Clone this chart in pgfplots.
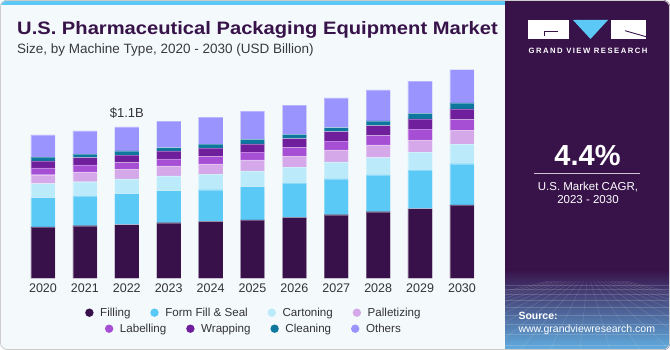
\documentclass[border=0pt]{standalone}
\usepackage{pgfplots}
\pgfplotsset{compat=1.18}
\usepackage{pgfplotstable}
\usepackage{graphicx}
\usepackage{fontspec}
\setmainfont{Liberation Sans}
\newfontfamily\logofont[LetterSpace=19]{Liberation Sans}

\definecolor{cFill}{HTML}{38114A}
\definecolor{cFFS}{HTML}{5BC9F6}
\definecolor{cCart}{HTML}{BBEAFA}
\definecolor{cPall}{HTML}{D5A8EA}
\definecolor{cLab}{HTML}{A64ED4}
\definecolor{cWrap}{HTML}{6F1F9B}
\definecolor{cClean}{HTML}{0E779E}
\definecolor{cOth}{HTML}{9A94FF}
\definecolor{panel}{HTML}{38134A}
\definecolor{pmid}{HTML}{4A5AA6}
\definecolor{pbot}{HTML}{62AEE0}
\definecolor{bgc}{HTML}{F4F9FC}
\definecolor{strip}{HTML}{5BC8F5}
\definecolor{titlec}{HTML}{38134A}
\definecolor{subc}{HTML}{3A3A3A}
\definecolor{tickc}{HTML}{333333}

\pgfplotstableread{
idx Filling FFS Cart Pall Lab Wrap Clean Others
0 0.373 0.213 0.102 0.065 0.049 0.051 0.027 0.162
1 0.382 0.216 0.104 0.071 0.051 0.053 0.025 0.169
2 0.390 0.225 0.107 0.068 0.051 0.054 0.031 0.174
3 0.404 0.233 0.107 0.073 0.051 0.058 0.024 0.192
4 0.414 0.230 0.114 0.073 0.056 0.060 0.029 0.196
5 0.424 0.242 0.114 0.080 0.058 0.060 0.032 0.206
6 0.443 0.249 0.116 0.080 0.063 0.065 0.031 0.211
7 0.462 0.260 0.124 0.087 0.065 0.068 0.029 0.216
8 0.484 0.267 0.126 0.092 0.068 0.073 0.034 0.225
9 0.506 0.281 0.131 0.087 0.080 0.073 0.041 0.235
10 0.533 0.300 0.143 0.097 0.080 0.078 0.044 0.242
}\datatable

\pgfplotsset{
  mylegend/.style={
    legend columns=4,
    legend image code/.code={\fill[##1, draw=none] (4.2pt,0pt) circle (4.2pt);},
    legend style={draw=none, fill=none, anchor=center,
      font=\fontsize{11.6}{13}\selectfont, text=tickc,
      nodes={inner xsep=0pt, inner ysep=1pt},
      /tikz/every odd column/.append style={column sep=6.6pt},
      /tikz/every even column/.append style={column sep=19.8pt}},
  },
  mybase/.style={
    at={(11.575pt,71.7pt)}, anchor=south west, scale only axis,
    width=481.85pt, height=220.1pt,
    xmin=-0.75, xmax=10.75, ymin=0, ymax=1.6, enlargelimits=false,
  },
  seg/.style={fill=#1, draw=white, draw opacity=0.3, line width=0.4pt},
}

\begin{document}
\begin{tikzpicture}[x=1pt,y=1pt]
\useasboundingbox (0,0) rectangle (670,350);
\begin{scope}
\clip[rounded corners=7pt] (0,0) rectangle (670,350);
\fill[bgc] (0,0) rectangle (670,350);
\fill[strip] (0,345) rectangle (505,350);
\fill[panel] (505,0) rectangle (670,350);
\shade[top color=panel, middle color=pmid, bottom color=pbot] (505,0) rectangle (670,80);
\begin{scope}
\clip (505,0) rectangle (670,68);
\foreach \yy in {65,61,56,50,43,35,26,16,5}
  \draw[white, opacity=0.16, line width=0.4pt] (505,\yy) -- (670,\yy);
\foreach \xx in {250,280,...,930}
  \draw[white, opacity=0.16, line width=0.4pt] (588,78) -- (\xx,0);
\end{scope}
\end{scope}
\draw[gray!40, rounded corners=7pt, line width=0.8pt] (0.4,0.4) rectangle (669.6,349.6);

% titles
\node[anchor=base west, inner sep=0, text=titlec, font=\fontsize{18}{20}\selectfont\bfseries]
  at (17,315) {\scalebox{1.12}[1]{U.S. Pharmaceutical Packaging Equipment Market}};
\node[anchor=base west, inner sep=0, text=subc, font=\fontsize{13.5}{16}\selectfont]
  at (17,296) {Size, by Machine Type, 2020 - 2030 (USD Billion)};

% logo
\fill[white] (528,311) rectangle (569,330);
\draw[panel, line width=0.9pt] (558,319) -- (544,319) -- (544,314);
\fill[strip] (573,330) -- (608,330) -- (590.5,311) -- cycle;
\fill[white] (611,311) rectangle (646,330);
\draw[panel, line width=0.9pt] (625,319.3) -- (646,313.3);
\node[anchor=base, inner sep=0, text=white, font=\logofont\fontsize{7.7}{8}\selectfont\bfseries]
  at (588,296.5) {GRAND VIEW RESEARCH};

% panel text
\node[anchor=base, inner sep=0, text=white, font=\fontsize{29}{32}\selectfont\bfseries] at (587.5,184) {4.4\%};
\draw[white, opacity=0.75, line width=0.8pt] (534,176.7) -- (640,176.7);
\node[anchor=base, inner sep=0, text=white, font=\fontsize{11.5}{13}\selectfont] at (588,159.3) {U.S. Market CAGR,};
\node[anchor=base, inner sep=0, text=white, font=\fontsize{11.5}{13}\selectfont] at (588,146) {2023 - 2030};
\node[anchor=base west, inner sep=0, text=white, font=\fontsize{10.5}{12}\selectfont\bfseries] at (518.3,30.5) {Source:};
\node[anchor=base west, inner sep=0, text=white, font=\fontsize{10.5}{12}\selectfont] at (518.3,17.3) {www.grandviewresearch.com};

\begin{axis}[mybase,
  ybar stacked, bar width=24.3pt, clip=false,
  mylegend,
  hide y axis, axis line style={draw=none},
  xtick={0,...,10},
  xticklabels={2020,2021,2022,2023,2024,2025,2026,2027,2028,2029,2030},
  major tick length=0pt, tick style={draw=none},
  xticklabel style={font=\fontsize{12.5}{14}\selectfont, text=tickc, inner sep=0pt, yshift=-5pt},
  legend style={at={(0.5008,-0.1563)}},
]
\addplot[seg=cFill] table[x=idx, y=Filling]{\datatable};
\addplot[seg=cFFS] table[x=idx, y=FFS]{\datatable};
\addplot[seg=cCart] table[x=idx, y=Cart]{\datatable};
\addplot[seg=cPall] table[x=idx, y=Pall]{\datatable};
\addplot[seg=cLab] table[x=idx, y=Lab]{\datatable};
\addplot[seg=cWrap] table[x=idx, y=Wrap]{\datatable};
\addplot[seg=cClean] table[x=idx, y=Clean]{\datatable};
\addplot[seg=cOth] table[x=idx, y=Others]{\datatable};
\legend{Filling, Form Fill \& Seal, Cartoning, Palletizing}
\node[anchor=base, inner sep=0, text=tickc, font=\fontsize{13}{15}\selectfont, yshift=9.7pt] at (axis cs:2,1.1) {\$1.1B};
\end{axis}

\begin{axis}[mybase, mylegend, hide axis,
  legend style={at={(0.5008,-0.229)}},
]
\addlegendimage{fill=cLab, draw=none}
\addlegendentry{Labelling}
\addlegendimage{fill=cWrap, draw=none}
\addlegendentry{Wrapping}
\addlegendimage{fill=cClean, draw=none}
\addlegendentry{Cleaning}
\addlegendimage{fill=cOth, draw=none}
\addlegendentry{Others}
\end{axis}
\end{tikzpicture}
\end{document}
